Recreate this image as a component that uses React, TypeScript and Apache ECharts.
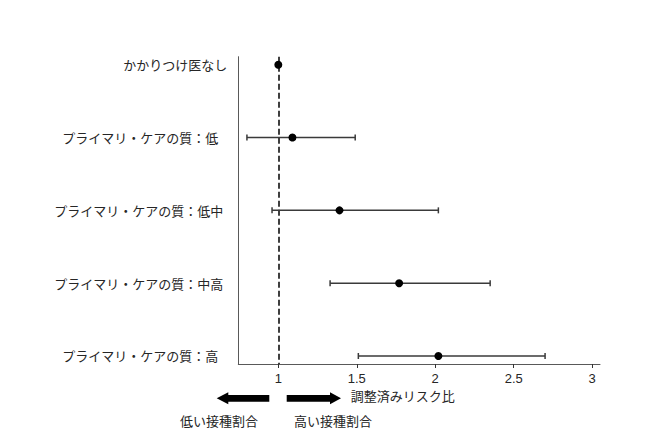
import React, { useEffect, useRef } from "react";
import * as echarts from "echarts";

// ---- data ----
const categories = [
  "かかりつけ医なし",
  "プライマリ・ケアの質：低",
  "プライマリ・ケアの質：低中",
  "プライマリ・ケアの質：中高",
  "プライマリ・ケアの質：高",
];
const riskRatio = [1.0, 1.09, 1.39, 1.77, 2.02];
const ciLow = [null, 0.8, 0.96, 1.33, 1.51];
const ciHigh = [null, 1.49, 2.02, 2.35, 2.7];
const xTicks = [1, 1.5, 2, 2.5, 3];
const xAxisTitle = "調整済みリスク比";
const lowerLabel = "低い接種割合";
const higherLabel = "高い接種割合";

// ---- styles ----
const labelRightPad = [0, 9, 4, 4, 9];
const JP = "'Noto Sans CJK JP', 'Noto Sans', sans-serif";
const NUM = "'Liberation Sans', Arial, sans-serif";
const TEXT = "#262626";

export default function App() {
  const ref = useRef<HTMLDivElement>(null);

  useEffect(() => {
    document.body.style.margin = "0";
    if (!ref.current) return;
    const chart = echarts.init(ref.current, null, { renderer: "svg" });

    const rows = categories.map((_, i) => i + 1);
    const points = riskRatio.map((v, i) => [v, rows[i]]);
    const ci = ciLow
      .map((lo, i) => (lo == null ? null : [lo, ciHigh[i], rows[i]]))
      .filter((d) => d != null) as number[][];

    const rich: Record<string, any> = {};
    labelRightPad.forEach((p, i) => {
      rich["r" + i] = {
        fontFamily: JP,
        fontSize: 13,
        color: TEXT,
        padding: [0, p, 0, 0],
      };
    });

    chart.setOption({
      animation: false,
      backgroundColor: "#ffffff",
      grid: { left: 238.3, right: 49, top: 56.7, bottom: 70, containLabel: false },
      xAxis: {
        type: "value",
        min: 0.745,
        max: 3.05,
        splitLine: { show: false },
        axisLine: { show: true, lineStyle: { color: "#595959", width: 1 } },
        axisTick: {
          show: true,
          customValues: xTicks,
          length: 4,
          lineStyle: { color: "#333", width: 1 },
        },
        axisLabel: {
          customValues: xTicks,
          formatter: (v: number) => String(v),
          fontFamily: NUM,
          fontSize: 13,
          color: TEXT,
          margin: 8,
        },
      },
      yAxis: {
        type: "value",
        inverse: true,
        min: 0.89,
        max: 5.11,
        splitLine: { show: false },
        axisLine: { show: true, lineStyle: { color: "#595959", width: 1 } },
        axisTick: { show: false },
        axisLabel: {
          customValues: rows,
          margin: 11,
          align: "right",
          formatter: (v: number) => {
            const i = Math.round(v) - 1;
            return "{r" + i + "|" + categories[i] + "}";
          },
          rich,
        },
      },
      series: [
        {
          type: "custom",
          renderItem: (params: any, api: any) => {
            const lo = api.coord([api.value(0), api.value(2)]);
            const hi = api.coord([api.value(1), api.value(2)]);
            const cap = 3;
            const style = { stroke: "#3a3a3a", lineWidth: 1.5 };
            return {
              type: "group",
              children: [
                { type: "line", shape: { x1: lo[0], y1: lo[1], x2: hi[0], y2: hi[1] }, style },
                { type: "line", shape: { x1: lo[0], y1: lo[1] - cap, x2: lo[0], y2: lo[1] + cap }, style },
                { type: "line", shape: { x1: hi[0], y1: hi[1] - cap, x2: hi[0], y2: hi[1] + cap }, style },
              ],
            };
          },
          encode: { x: [0, 1], y: 2 },
          data: ci,
          z: 2,
        },
        {
          type: "scatter",
          data: points,
          symbol: "circle",
          symbolSize: 8,
          itemStyle: { color: "#000000", opacity: 1 },
          z: 4,
          markLine: {
            silent: true,
            symbol: ["none", "none"],
            label: { show: false },
            lineStyle: { color: "#000000", width: 1.5, type: [6, 3], opacity: 1 },
            data: [{ xAxis: 1 }],
            z: 1,
          },
        },
      ],
      graphic: [
        {
          type: "text",
          left: 350.7,
          top: 389,
          style: { text: xAxisTitle, font: "13px " + JP, fill: TEXT },
        },
        {
          type: "text",
          left: 180,
          top: 414,
          style: { text: lowerLabel, font: "13px " + JP, fill: TEXT },
        },
        {
          type: "text",
          left: 294,
          top: 414,
          style: { text: higherLabel, font: "13px " + JP, fill: TEXT },
        },
        {
          type: "polygon",
          shape: {
            points: [
              [216.7, 398.3],
              [228.3, 392.3],
              [228.3, 395],
              [269.3, 395],
              [269.3, 401.7],
              [228.3, 401.7],
              [228.3, 404.3],
            ],
          },
          style: { fill: "#000000" },
        },
        {
          type: "polygon",
          shape: {
            points: [
              [341, 398.3],
              [330, 392.3],
              [330, 395],
              [286.7, 395],
              [286.7, 401.7],
              [330, 401.7],
              [330, 404.3],
            ],
          },
          style: { fill: "#000000" },
        },
      ],
    });

    return () => chart.dispose();
  }, []);

  return <div ref={ref} style={{ width: 649, height: 434 }} />;
}
